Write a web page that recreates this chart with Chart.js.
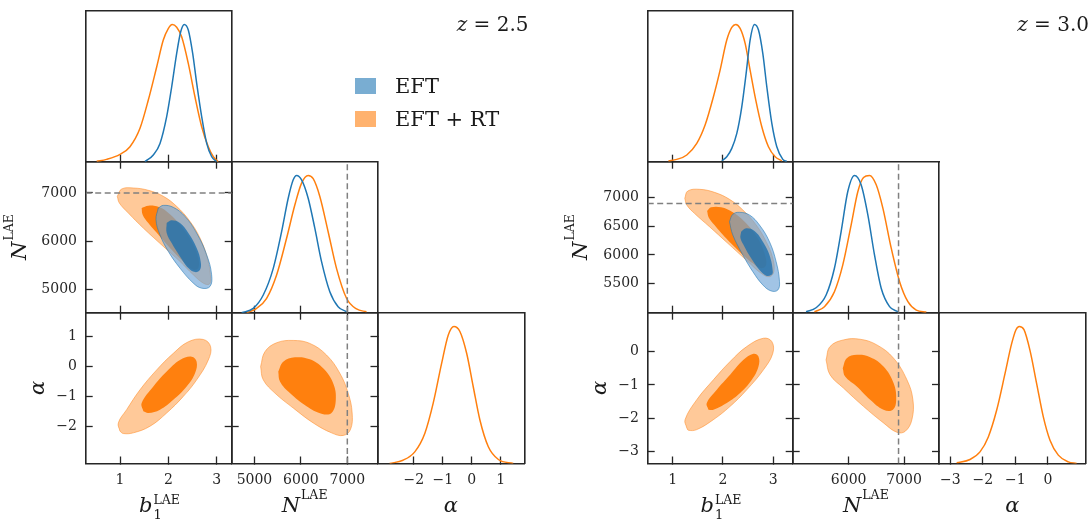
<!DOCTYPE html>
<html>
<head>
<meta charset="utf-8">
<script src="https://cdn.jsdelivr.net/npm/chart.js@4.4.0/dist/chart.umd.min.js"></script>
<style>
  body { margin: 0; background: #fff; }
  #wrap { position: relative; width: 1092px; height: 521px; overflow: hidden; font-family: 'DejaVu Serif', serif; color: #1a1a1a; }
  #wrap canvas { position: absolute; left: 0; top: 0; }
  .lab { position: absolute; font-size: 21px; line-height: 1; white-space: nowrap; }
  .sp { font-size: 12.5px; position: relative; margin-left: 1px; }
  .ss { position: relative; display: inline-block; width: 26px; height: 10px; }
  .ss .u { position: absolute; left: 1px; top: -8.5px; font-size: 12.5px; line-height: 1; }
  .ss .d { position: absolute; left: 1px; top: 6px; font-size: 13px; line-height: 1; }
  .patch { position: absolute; width: 21px; height: 16px; }
</style>
</head>
<body>
<div id="wrap">
  <div class="lab" style="right:563.5px;top:14px;font-size:20px"><i>z</i> = 2.5</div>
  <div class="lab" style="right:3px;top:14px;font-size:20px"><i>z</i> = 3.0</div>

  <div class="patch" style="left:355px;top:78px;background:rgba(31,119,180,0.6)"></div>
  <div class="patch" style="left:355px;top:111px;background:rgba(255,127,14,0.6)"></div>
  <div class="lab" style="left:395px;top:76px">EFT</div>
  <div class="lab" style="left:395px;top:109px">EFT + RT</div>
</div>
<script>
// ---------- z = 2.5 ----------
const z25_b1Range = [0.29, 3.31];
const z25_NRange = [4510, 7650];
const z25_aRange = [-3.25, 1.81];
const z25_b1Ticks = [1, 2, 3];
const z25_NTicks = [5000, 6000, 7000];
const z25_aTicks = [-2, -1, 0, 1];
const z25_Nfid = 7000;

const z25_b1_eft_x = [1.516, 1.688, 1.827, 1.965, 2.069, 2.172, 2.255, 2.329, 2.412, 2.503, 2.586, 2.689, 2.793, 2.896, 3.0];
const z25_b1_eft_y = [0.0, 0.049, 0.133, 0.328, 0.546, 0.789, 0.947, 1.0, 0.96, 0.789, 0.57, 0.328, 0.133, 0.036, 0.0];
const z25_b1_rt_x = [0.517, 0.72, 1.0, 1.206, 1.413, 1.585, 1.758, 1.895, 1.998, 2.08, 2.172, 2.275, 2.412, 2.55, 2.689, 2.826, 2.93, 3.032];
const z25_b1_rt_y = [0.003, 0.017, 0.053, 0.109, 0.243, 0.449, 0.69, 0.886, 0.97, 1.0, 0.98, 0.91, 0.716, 0.473, 0.255, 0.109, 0.036, 0.0];

const z25_N_eft_x = [4725, 4975, 5190, 5405, 5585, 5727, 5835, 5907, 6015, 6157, 6301, 6445, 6623, 6802, 6983];
const z25_N_eft_y = [0.0, 0.032, 0.129, 0.323, 0.59, 0.834, 0.968, 1.0, 0.968, 0.834, 0.614, 0.372, 0.153, 0.044, 0.007];
const z25_N_rt_x = [4832, 5047, 5262, 5477, 5692, 5871, 6015, 6157, 6265, 6408, 6587, 6767, 6983, 7197, 7413];
const z25_N_rt_y = [0.0, 0.032, 0.105, 0.275, 0.542, 0.786, 0.944, 1.0, 0.976, 0.847, 0.59, 0.323, 0.105, 0.027, 0.007];

const z25_a_rt_x = [-2.83, -2.37, -1.965, -1.62, -1.33, -1.04, -0.81, -0.616, -0.41, -0.177, 0.05, 0.28, 0.57, 0.917, 1.43];
const z25_a_rt_y = [0.0, 0.024, 0.085, 0.219, 0.44, 0.73, 0.938, 1.0, 0.963, 0.804, 0.56, 0.317, 0.122, 0.029, 0.0];

// contours: [x, y] pairs
const z25_Nb1_rt_2s = [[0.944,6930],[1.034,7082],[1.275,7103],[1.585,7055],[1.896,6930],[2.171,6721],[2.447,6409],[2.654,6062],[2.806,5645],[2.875,5229],[2.847,5104],[2.723,5125],[2.516,5298],[2.24,5576],[1.896,5888],[1.482,6270],[1.172,6583],[0.986,6791]];
const z25_Nb1_rt_1s = [[1.447,6687],[1.585,6735],[1.758,6721],[1.965,6617],[2.24,6340],[2.481,5992],[2.619,5645],[2.619,5437],[2.516,5402],[2.309,5576],[2.068,5819],[1.826,6096],[1.585,6374],[1.468,6548]];
const z25_Nb1_eft_2s = [[1.792,6687],[1.896,6742],[2.102,6701],[2.344,6513],[2.585,6166],[2.792,5715],[2.895,5298],[2.861,5055],[2.688,5020],[2.516,5125],[2.24,5437],[1.999,5784],[1.826,6131],[1.744,6444]];
const z25_Nb1_eft_1s = [[1.965,6374],[2.068,6430],[2.24,6374],[2.413,6166],[2.585,5853],[2.668,5576],[2.654,5402],[2.551,5354],[2.413,5437],[2.24,5680],[2.068,5958],[1.965,6166]];
const z25_ab1_rt_2s = [[0.999,-2.166],[0.965,-1.888],[1.137,-1.443],[1.413,-0.777],[1.758,-0.11],[2.102,0.446],[2.413,0.834],[2.723,0.912],[2.874,0.668],[2.826,0.223],[2.585,-0.443],[2.309,-0.999],[1.965,-1.555],[1.62,-2.0],[1.275,-2.221],[1.068,-2.244]];
const z25_ab1_rt_1s = [[1.482,-1.499],[1.448,-1.221],[1.689,-0.666],[1.965,-0.166],[2.24,0.223],[2.482,0.334],[2.585,0.168],[2.551,-0.221],[2.378,-0.666],[2.102,-1.11],[1.827,-1.444],[1.585,-1.555]];
const z25_aN_rt_2s = [[5133,0.001],[5226,0.501],[5477,0.801],[5835,0.879],[6193,0.779],[6552,0.39],[6839,-0.221],[7018,-0.888],[7104,-1.555],[7068,-2.11],[6910,-2.31],[6659,-2.221],[6265,-1.888],[5835,-1.388],[5441,-0.888],[5190,-0.443]];
const z25_aN_rt_1s = [[5513,-0.166],[5620,0.168],[5871,0.312],[6193,0.246],[6480,-0.055],[6695,-0.555],[6752,-1.11],[6659,-1.555],[6444,-1.577],[6122,-1.332],[5763,-0.888],[5549,-0.499]];

// ---------- z = 3.0 ----------
const z30_b1Range = [0.50, 3.39];
const z30_NRange = [4990, 7630];
const z30_aRange = [-3.35, 1.16];
const z30_b1Ticks = [1, 2, 3];
const z30_NTicksX = [6000, 7000];
const z30_NTicksY = [5500, 6000, 6500, 7000];
const z30_aTicks = [-3, -2, -1, 0];
const z30_Nfid = 6900;

const z30_b1_eft_x = [1.977, 2.076, 2.176, 2.276, 2.375, 2.462, 2.541, 2.628, 2.708, 2.794, 2.874, 2.974, 3.073, 3.193, 3.273];
const z30_b1_eft_y = [0.007, 0.036, 0.097, 0.206, 0.4, 0.643, 0.886, 1.0, 0.959, 0.789, 0.546, 0.279, 0.109, 0.017, 0.002];
const z30_b1_rt_x = [0.913, 1.079, 1.279, 1.478, 1.644, 1.81, 1.943, 2.076, 2.176, 2.256, 2.342, 2.442, 2.541, 2.654, 2.774, 2.907, 3.04, 3.173];
const z30_b1_rt_y = [0.005, 0.017, 0.049, 0.133, 0.267, 0.473, 0.667, 0.886, 0.978, 1.0, 0.971, 0.862, 0.667, 0.449, 0.255, 0.109, 0.036, 0.007];

const z30_N_eft_x = [5231, 5412, 5593, 5743, 5864, 5984, 6105, 6225, 6346, 6466, 6587, 6738, 6888];
const z30_N_eft_y = [0.007, 0.036, 0.129, 0.324, 0.591, 0.883, 1.0, 0.932, 0.713, 0.421, 0.178, 0.044, 0.007];
const z30_N_rt_x = [5382, 5563, 5743, 5894, 6045, 6166, 6268, 6377, 6497, 6617, 6768, 6919, 7069, 7220, 7401];
const z30_N_rt_y = [0.007, 0.044, 0.153, 0.348, 0.64, 0.883, 0.985, 1.0, 0.932, 0.762, 0.47, 0.226, 0.08, 0.019, 0.005];

const z30_a_rt_x = [-2.807, -2.397, -2.09, -1.834, -1.578, -1.321, -1.117, -0.983, -0.881, -0.737, -0.553, -0.348, -0.143, 0.062, 0.318, 0.625, 0.882];
const z30_a_rt_y = [0.005, 0.029, 0.085, 0.194, 0.388, 0.655, 0.874, 0.976, 1.0, 0.976, 0.825, 0.583, 0.34, 0.17, 0.061, 0.012, 0.0];

const z30_Nb1_rt_2s = [[1.239,6990],[1.299,7118],[1.532,7147],[1.831,7094],[2.13,6972],[2.396,6786],[2.662,6523],[2.861,6232],[2.994,5941],[3.014,5708],[2.927,5620],[2.761,5679],[2.462,5912],[2.097,6203],[1.731,6494],[1.432,6727],[1.279,6873]];
const z30_Nb1_rt_1s = [[1.684,6768],[1.764,6832],[1.964,6832],[2.196,6745],[2.462,6553],[2.695,6290],[2.828,6028],[2.861,5824],[2.761,5766],[2.595,5853],[2.329,6057],[2.063,6290],[1.831,6523],[1.718,6652]];
const z30_Nb1_eft_2s = [[2.13,6582],[2.196,6710],[2.329,6745],[2.529,6698],[2.728,6523],[2.927,6232],[3.06,5882],[3.127,5533],[3.094,5387],[2.961,5370],[2.795,5475],[2.595,5708],[2.396,6000],[2.196,6349]];
const z30_Nb1_eft_1s = [[2.362,6407],[2.462,6465],[2.628,6419],[2.795,6232],[2.927,5999],[2.994,5708],[2.961,5649],[2.861,5638],[2.728,5737],[2.562,5941],[2.429,6145],[2.349,6290]];
const z30_ab1_rt_2s = [[1.279,-2.286],[1.245,-2.038],[1.478,-1.442],[1.81,-0.846],[2.143,-0.3],[2.475,0.148],[2.807,0.396],[2.974,0.297],[2.994,-0.051],[2.807,-0.548],[2.475,-1.144],[2.143,-1.641],[1.81,-2.038],[1.478,-2.336],[1.312,-2.356]];
const z30_ab1_rt_1s = [[1.711,-1.74],[1.678,-1.541],[1.877,-1.144],[2.143,-0.697],[2.409,-0.25],[2.608,-0.071],[2.708,-0.15],[2.708,-0.449],[2.575,-0.846],[2.342,-1.243],[2.076,-1.541],[1.81,-1.74]];
const z30_aN_rt_2s = [[5592,-0.25],[5664,0.148],[5906,0.346],[6207,0.366],[6508,0.197],[6810,-0.2],[7051,-0.846],[7159,-1.442],[7141,-2.038],[7021,-2.386],[6870,-2.416],[6629,-2.137],[6267,-1.641],[5906,-1.094],[5664,-0.697]];
const z30_aN_rt_1s = [[5893,-0.498],[5966,-0.2],[6147,-0.1],[6388,-0.17],[6629,-0.449],[6810,-0.945],[6858,-1.442],[6798,-1.74],[6629,-1.74],[6388,-1.442],[6147,-1.045],[5936,-0.747]];

const peakRange = [0, 1.1];

// ---------- layout / style ----------
const W = 1092, H = 521;
const ROWS = [10.7, 161.7, 312.7, 463.5];
const COLS_Z25 = [85.7, 231.7, 377.5, 524.3];
const COLS_Z30 = [647.7, 792.7, 939, 1085.7];
const Y_LABEL_SPACE = 60, X_LABEL_SPACE = 40;

const BLUE = '#1f77b4', ORANGE = '#ff7f0e', INK = '#262626';
const RT_2S = '#ffc999', RT_1S = '#ff800e', RT_EDGE = 'rgba(255,140,40,0.55)';
const EFT_2S = 'rgba(110,165,215,0.65)', EFT_1S = 'rgba(31,112,172,0.8)', EFT_EDGE = 'rgba(31,119,180,0.55)';

const wrap = document.getElementById('wrap');

function pts(xs, ys) { return xs.map((x, i) => ({ x, y: ys[i] })); }
function ring(pairs) { const p = pairs.map(([x, y]) => ({ x, y })); p.push(p[0]); return p; }

function curve(xs, ys, color, order) {
  return { data: pts(xs, ys), borderColor: color, borderWidth: 1.5, pointRadius: 0, fill: false,
           cubicInterpolationMode: 'monotone', order };
}
function blob(pairs, fillColor, edge, order) {
  return { data: ring(pairs), backgroundColor: fillColor, borderColor: edge || 'rgba(0,0,0,0)',
           borderWidth: edge ? 1 : 0, pointRadius: 0, fill: 'shape', tension: 0.4, order };
}
function dashed(a, b) {
  return { data: [a, b], borderColor: '#808080', borderWidth: 1.5, borderDash: [6, 3.5],
           pointRadius: 0, fill: false, order: 0 };
}

function axis(pos, range, vals, labels, marks) {
  const horiz = pos === 'top' || pos === 'bottom';
  const size = labels ? (horiz ? X_LABEL_SPACE : Y_LABEL_SPACE) : 0;
  return {
    type: 'linear', axis: horiz ? 'x' : 'y', position: pos,
    min: range[0], max: range[1],
    afterBuildTicks: s => { s.ticks = vals.map(v => ({ value: v })); },
    afterFit: s => { if (horiz) s.height = size; else s.width = size; },
    ticks: { display: labels, autoSkip: false, maxRotation: 0, padding: horiz ? 15 : 15.7, color: INK,
             font: { family: 'DejaVu Serif', size: 14 },
             callback: v => String(v).replace('-', '\u2212') },
    grid: { display: marks, drawOnChartArea: false, drawTicks: true, tickLength: -7,
            tickColor: INK, tickWidth: 1.3 },
    border: { display: true, color: INK, width: 1.6 }
  };
}

function panel(rect, scales, datasets) {
  const cv = document.createElement('canvas');
  cv.width = W; cv.height = H;
  cv.style.width = W + 'px'; cv.style.height = H + 'px';
  wrap.insertBefore(cv, wrap.firstChild);
  datasets.forEach(d => { d.xAxisID = 'x'; d.yAxisID = 'y'; });
  const padL = rect[0] - (scales.y.ticks.display ? Y_LABEL_SPACE : 0);
  const padB = H - rect[3] - (scales.x.ticks.display ? X_LABEL_SPACE : 0);
  new Chart(cv, {
    type: 'line',
    data: { datasets },
    options: {
      responsive: false, animation: false, devicePixelRatio: 1, events: [],
      layout: { autoPadding: false,
                padding: { left: padL, top: rect[1], right: W - rect[2], bottom: padB } },
      plugins: { legend: { display: false }, tooltip: { enabled: false } },
      scales
    }
  });
}

// one triangle of panels
function corner(cols, d) {
  const r = (i, j) => [cols[j], ROWS[i], cols[j + 1], ROWS[i + 1]];

  panel(r(0, 0), {
    x: axis('bottom', d.b1Range, d.b1Ticks, false, true),
    x2: axis('top', d.b1Range, d.b1Ticks, false, false),
    y: axis('left', peakRange, [0], false, false),
    y2: axis('right', peakRange, [0], false, false)
  }, [curve(d.b1_eft_x, d.b1_eft_y, BLUE, 1), curve(d.b1_rt_x, d.b1_rt_y, ORANGE, 2)]);

  panel(r(1, 0), {
    x: axis('bottom', d.b1Range, d.b1Ticks, false, true),
    x2: axis('top', d.b1Range, d.b1Ticks, false, true),
    y: axis('left', d.NRange, d.NTicksY, true, true),
    y2: axis('right', d.NRange, d.NTicksY, false, true)
  }, [
    dashed({ x: d.b1Range[0], y: d.Nfid }, { x: d.b1Range[1], y: d.Nfid }),
    blob(d.Nb1_eft_1s, EFT_1S, null, 1),
    blob(d.Nb1_eft_2s, EFT_2S, EFT_EDGE, 2),
    blob(d.Nb1_rt_1s, RT_1S, null, 3),
    blob(d.Nb1_rt_2s, RT_2S, RT_EDGE, 4)
  ]);

  panel(r(1, 1), {
    x: axis('bottom', d.NRange, d.NTicksX, false, true),
    x2: axis('top', d.NRange, d.NTicksX, false, false),
    y: axis('left', peakRange, [0], false, false),
    y2: axis('right', peakRange, [0], false, false)
  }, [
    dashed({ x: d.Nfid, y: peakRange[0] }, { x: d.Nfid, y: peakRange[1] }),
    curve(d.N_eft_x, d.N_eft_y, BLUE, 1), curve(d.N_rt_x, d.N_rt_y, ORANGE, 2)
  ]);

  panel(r(2, 0), {
    x: axis('bottom', d.b1Range, d.b1Ticks, true, true),
    x2: axis('top', d.b1Range, d.b1Ticks, false, true),
    y: axis('left', d.aRange, d.aTicks, true, true),
    y2: axis('right', d.aRange, d.aTicks, false, true)
  }, [blob(d.ab1_rt_1s, RT_1S, null, 1), blob(d.ab1_rt_2s, RT_2S, RT_EDGE, 2)]);

  panel(r(2, 1), {
    x: axis('bottom', d.NRange, d.NTicksX, true, true),
    x2: axis('top', d.NRange, d.NTicksX, false, true),
    y: axis('left', d.aRange, d.aTicks, false, true),
    y2: axis('right', d.aRange, d.aTicks, false, true)
  }, [
    dashed({ x: d.Nfid, y: d.aRange[0] }, { x: d.Nfid, y: d.aRange[1] }),
    blob(d.aN_rt_1s, RT_1S, null, 1), blob(d.aN_rt_2s, RT_2S, RT_EDGE, 2)
  ]);

  panel(r(2, 2), {
    x: axis('bottom', d.aRange, d.aTicks, true, true),
    x2: axis('top', d.aRange, d.aTicks, false, false),
    y: axis('left', peakRange, [0], false, false),
    y2: axis('right', peakRange, [0], false, false)
  }, [curve(d.a_rt_x, d.a_rt_y, ORANGE, 1)]);
}

corner(COLS_Z25, {
  b1Range: z25_b1Range, NRange: z25_NRange, aRange: z25_aRange,
  b1Ticks: z25_b1Ticks, NTicksX: z25_NTicks, NTicksY: z25_NTicks, aTicks: z25_aTicks, Nfid: z25_Nfid,
  b1_eft_x: z25_b1_eft_x, b1_eft_y: z25_b1_eft_y, b1_rt_x: z25_b1_rt_x, b1_rt_y: z25_b1_rt_y,
  N_eft_x: z25_N_eft_x, N_eft_y: z25_N_eft_y, N_rt_x: z25_N_rt_x, N_rt_y: z25_N_rt_y,
  a_rt_x: z25_a_rt_x, a_rt_y: z25_a_rt_y,
  Nb1_rt_2s: z25_Nb1_rt_2s, Nb1_rt_1s: z25_Nb1_rt_1s, Nb1_eft_2s: z25_Nb1_eft_2s, Nb1_eft_1s: z25_Nb1_eft_1s,
  ab1_rt_2s: z25_ab1_rt_2s, ab1_rt_1s: z25_ab1_rt_1s, aN_rt_2s: z25_aN_rt_2s, aN_rt_1s: z25_aN_rt_1s
});
corner(COLS_Z30, {
  b1Range: z30_b1Range, NRange: z30_NRange, aRange: z30_aRange,
  b1Ticks: z30_b1Ticks, NTicksX: z30_NTicksX, NTicksY: z30_NTicksY, aTicks: z30_aTicks, Nfid: z30_Nfid,
  b1_eft_x: z30_b1_eft_x, b1_eft_y: z30_b1_eft_y, b1_rt_x: z30_b1_rt_x, b1_rt_y: z30_b1_rt_y,
  N_eft_x: z30_N_eft_x, N_eft_y: z30_N_eft_y, N_rt_x: z30_N_rt_x, N_rt_y: z30_N_rt_y,
  a_rt_x: z30_a_rt_x, a_rt_y: z30_a_rt_y,
  Nb1_rt_2s: z30_Nb1_rt_2s, Nb1_rt_1s: z30_Nb1_rt_1s, Nb1_eft_2s: z30_Nb1_eft_2s, Nb1_eft_1s: z30_Nb1_eft_1s,
  ab1_rt_2s: z30_ab1_rt_2s, ab1_rt_1s: z30_ab1_rt_1s, aN_rt_2s: z30_aN_rt_2s, aN_rt_1s: z30_aN_rt_1s
});

// axis titles (math-style labels as HTML text)
function addLabel(html, cx, cy, rotated) {
  const el = document.createElement('div');
  el.className = 'lab';
  el.innerHTML = html;
  el.style.left = cx + 'px';
  el.style.top = cy + 'px';
  el.style.transform = rotated ? 'translate(-50%,-50%) rotate(-90deg)' : 'translateX(-50%)';
  wrap.appendChild(el);
}
const B1_LAB = '<i>b</i><span class="ss"><span class="u">LAE</span><span class="d">1</span></span>';
const N_LAB = '<i>N</i><span class="sp" style="top:-13px">LAE</span>';
const A_LAB = '<i>α</i>';
[COLS_Z25, COLS_Z30].forEach(c => {
  addLabel(B1_LAB, (c[0] + c[1]) / 2, 495, false);
  addLabel(N_LAB, (c[1] + c[2]) / 2, 495, false);
  addLabel(A_LAB, (c[2] + c[3]) / 2, 495, false);
});
addLabel(N_LAB, 19, 237, true);
addLabel(A_LAB, 37, 388, true);
addLabel(N_LAB, 580, 237, true);
addLabel(A_LAB, 599, 388, true);
</script>
</body>
</html>
